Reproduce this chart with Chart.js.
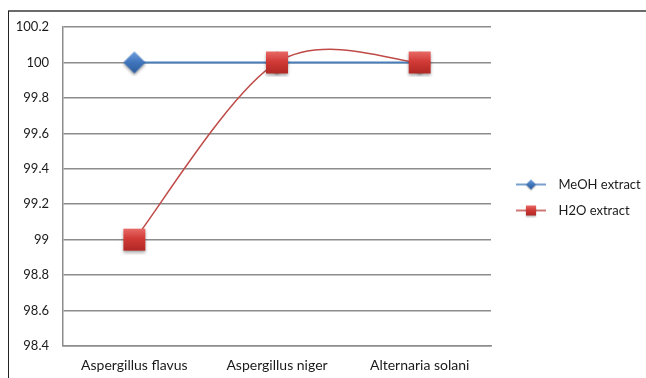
<!DOCTYPE html>
<html>
<head>
<meta charset="utf-8">
<script src="https://cdn.jsdelivr.net/npm/chart.js@4/dist/chart.umd.min.js"></script>
<style>
  html, body { margin: 0; padding: 0; background: #ffffff; }
  #wrap { width: 646px; height: 378px; position: relative; }
</style>
</head>
<body>
<div id="wrap"><canvas id="c" width="646" height="378"></canvas></div>
<script>
// Inhibition (%) of fungal growth by the two extracts
const categories = ['Aspergillus flavus', 'Aspergillus niger', 'Alternaria solani'];
const meohValues = [100, 100, 100];
const h2oValues = [99, 100, 100];
const seriesNames = ['MeOH extract', 'H2O extract'];
const yMin = 98.4, yMax = 100.2, yStep = 0.2;

const FONT = 'Lato, "Open Sans", "DejaVu Sans", sans-serif';

// Shaded marker sprites (diamond / square) drawn on small offscreen canvases
function makeMarker(kind, size, half, withLine) {
  const w = withLine ? 48 : size, h = size;
  const cv = document.createElement('canvas');
  cv.width = w; cv.height = h;
  const g = cv.getContext('2d');
  const cx = withLine ? 27 : w / 2, cy = h / 2;
  if (withLine) {
    g.strokeStyle = kind === 'diamond' ? '#4a7ebb' : '#be4b48';
    g.lineWidth = 1.5;
    g.beginPath(); g.moveTo(12, cy); g.lineTo(42, cy); g.stroke();
  }
  g.save();
  g.shadowColor = 'rgba(0,0,0,0.35)';
  g.shadowBlur = withLine ? 1.5 : 3;
  g.shadowOffsetY = withLine ? 1 : 2;
  const grad = g.createLinearGradient(0, cy - half, 0, cy + half);
  if (kind === 'diamond') {
    grad.addColorStop(0, '#6f9fdc');
    grad.addColorStop(0.5, '#3f75bb');
    grad.addColorStop(1, '#2c5c9e');
    g.fillStyle = grad;
    g.beginPath();
    g.moveTo(cx, cy - half); g.lineTo(cx + half, cy);
    g.lineTo(cx, cy + half); g.lineTo(cx - half, cy);
    g.closePath(); g.fill();
  } else {
    grad.addColorStop(0, '#e86a66');
    grad.addColorStop(0.45, '#d23b37');
    grad.addColorStop(1, '#b02824');
    g.fillStyle = grad;
    g.fillRect(cx - half, cy - half, half * 2, half * 2);
  }
  g.restore();
  return cv;
}

const diamondPt = makeMarker('diamond', 28, 11, false);
const squarePt = makeMarker('square', 30, 11, false);
const diamondLeg = makeMarker('diamond', 14, 5, true);
const squareLeg = makeMarker('square', 14, 5, true);

// Outer frame lines (top and left)
const framePlugin = {
  id: 'frame',
  beforeDraw(chart) {
    const ctx = chart.ctx;
    ctx.save();
    ctx.fillStyle = '#ffffff';
    ctx.fillRect(0, 0, chart.width, chart.height);
    ctx.strokeStyle = '#3a3a3a';
    ctx.lineWidth = 1.5;
    ctx.beginPath(); ctx.moveTo(8, 11); ctx.lineTo(chart.width, 11); ctx.stroke();
    ctx.lineWidth = 1;
    ctx.strokeStyle = '#222222';
    ctx.beginPath(); ctx.moveTo(8.5, 11); ctx.lineTo(8.5, chart.height); ctx.stroke();
    ctx.restore();
  }
};

// Fixed width for the legend column on the right, items raised slightly
const legendWidthPlugin = {
  id: 'legendWidth',
  afterInit(chart) {
    const lg = chart.legend;
    if (!lg) return;
    const fit = lg.fit.bind(lg);
    lg.fit = function () { fit(); this.width = 155; };
  },
  afterLayout(chart) {
    const lg = chart.legend;
    if (lg) lg.bottom -= 10;
  }
};

// Catmull-Rom style smoothing: each control arm is 1/6 of the neighbour span
const smoothPlugin = {
  id: 'smoothSpline',
  beforeDatasetDraw(chart, args) {
    const line = args.meta.dataset;
    if (!line || !line.options.tension) return;
    line.updateControlPoints(chart.chartArea, 'x');
    const pts = line.points;
    const n = pts.length;
    for (let i = 0; i < n; i++) {
      const p = pts[i];
      const a = pts[Math.max(i - 1, 0)];
      const b = pts[Math.min(i + 1, n - 1)];
      const dx = (b.x - a.x) / 6, dy = (b.y - a.y) / 6;
      p.cp1x = p.x - dx; p.cp1y = p.y - dy;
      p.cp2x = p.x + dx; p.cp2y = p.y + dy;
    }
    line._path = undefined;
  }
};

new Chart(document.getElementById('c'), {
  type: 'line',
  data: {
    labels: categories,
    datasets: [
      {
        label: seriesNames[0],
        data: meohValues,
        borderColor: '#4a7ebb',
        backgroundColor: '#4a7ebb',
        borderWidth: 2,
        tension: 0,
        pointStyle: diamondPt,
        order: 2
      },
      {
        label: seriesNames[1],
        data: h2oValues,
        borderColor: '#be4b48',
        backgroundColor: '#be4b48',
        borderWidth: 1.5,
        tension: 0.4,
        pointStyle: squarePt,
        order: 1
      }
    ]
  },
  options: {
    responsive: false,
    animation: false,
    devicePixelRatio: 1,
    layout: { padding: { left: 8, top: 27, right: 0, bottom: 0 } },
    plugins: {
      tooltip: { enabled: false },
      legend: {
        position: 'right',
        labels: {
          usePointStyle: true,
          pointStyleWidth: 48,
          padding: 13,
          color: '#1a1a1a',
          font: { family: FONT, size: 13 },
          sort: (a, b) => a.datasetIndex - b.datasetIndex,
          generateLabels(chart) {
            return chart.data.datasets.map((ds, i) => ({
              text: ds.label,
              datasetIndex: i,
              pointStyle: i === 0 ? diamondLeg : squareLeg,
              fillStyle: ds.backgroundColor,
              strokeStyle: ds.borderColor,
              lineWidth: 0,
              fontColor: '#1a1a1a',
              hidden: false
            }));
          }
        }
      }
    },
    scales: {
      x: {
        offset: true,
        afterFit(s) { s.height = 32; },
        grid: { display: false, drawTicks: false },
        border: { display: true, color: '#8c8c8c', width: 1.5 },
        ticks: { padding: 11, color: '#1a1a1a', font: { family: FONT, size: 14 } }
      },
      y: {
        min: yMin,
        max: yMax,
        afterFit(s) { s.width = 55; },
        grid: { color: '#8c8c8c', lineWidth: 1.5, drawTicks: false },
        border: { display: true, color: '#8c8c8c', width: 1.5 },
        ticks: {
          stepSize: yStep,
          padding: 14,
          color: '#1a1a1a',
          font: { family: FONT, size: 13 },
          callback: v => String(Math.round(v * 10) / 10)
        }
      }
    }
  },
  plugins: [framePlugin, legendWidthPlugin, smoothPlugin]
});
</script>
</body>
</html>
